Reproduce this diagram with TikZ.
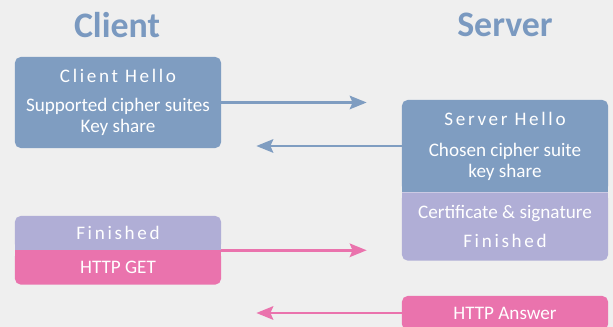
\documentclass[tikz,border=0pt]{standalone}
\usepackage{fontspec}
\setmainfont{Carlito}
\usepackage{tikz}
\usetikzlibrary{arrows.meta, positioning}

\definecolor{hellocol}{RGB}{127,157,193}
\definecolor{fincol}{RGB}{176,174,214}
\definecolor{httpcol}{RGB}{234,115,173}
\definecolor{bgcol}{RGB}{239,239,239}
\definecolor{titlecol}{RGB}{122,153,192}

\newcommand{\msgname}[1]{{\addfontfeature{LetterSpace=14}#1}}

\begin{document}
\begin{tikzpicture}[
    x=0.025cm, y=-0.025cm,
    side/.style={font=\fontsize{25.5}{30}\selectfont\bfseries, text=titlecol},
    msg/.style={rectangle, rounded corners=4pt, minimum width=5.15cm, inner sep=0pt,
                text=white, align=center, font=\fontsize{13.6}{15}\selectfont},
    hello/.style={msg, fill=hellocol},
    fin/.style={msg, fill=fincol},
    http/.style={msg, fill=httpcol},
    arrow/.style={line width=2.1pt, -{Stealth[length=12pt, width=9.5pt, inset=2pt]}, shorten >=0.875cm}
]
\useasboundingbox (0,0) rectangle (613,327);
\fill[bgcol] (0,0) rectangle (613,327);

\node (client) [side] at (117,25) {Client};
\node (server) [side] at (505,25) {Server};

% client side
\node (clienthello) [hello, minimum height=2.275cm] at (118,102.5)
    {\msgname{Client Hello}\\[6pt]Supported cipher suites\\Key share};
\node (clientfin) [fin, minimum height=0.85cm] at (118,233) {\msgname{Finished}};
\node (httpget) [http, minimum height=0.85cm, below=0pt of clientfin] {HTTP GET};

% server side
\node (serverhello) [hello, minimum height=2.3cm] at (505,146)
    {\msgname{Server Hello}\\[7pt]Chosen cipher suite\\key share};
\node (servercert) [fin, minimum height=1.7cm, below=0pt of serverhello]
    {Certificate \& signature\\[6pt]\msgname{Finished}};
\node (httpanswer) [http, minimum height=0.85cm] at (505,313) {HTTP Answer};

% square joins
\fill[hellocol] ([yshift=5pt]serverhello.south west) rectangle (serverhello.south east);
\fill[fincol] (servercert.north west) rectangle ([yshift=-5pt]servercert.north east);
\draw[white!35!fincol, line width=0.6pt] (serverhello.south west) -- (serverhello.south east);
\fill[fincol] ([yshift=5pt]clientfin.south west) rectangle (clientfin.south east);
\fill[httpcol] (httpget.north west) rectangle ([yshift=-5pt]httpget.north east);

% messages
\draw [arrow, hellocol] (clienthello.east) -- (clienthello.east -| serverhello.west);
\draw [arrow, hellocol] (serverhello.west) -- (serverhello.west -| clienthello.east);
\draw [arrow, httpcol] (clientfin.south east) -- (clientfin.south east -| servercert.west);
\draw [arrow, httpcol] (httpanswer.west) -- (httpanswer.west -| httpget.east);

\end{tikzpicture}
\end{document}
